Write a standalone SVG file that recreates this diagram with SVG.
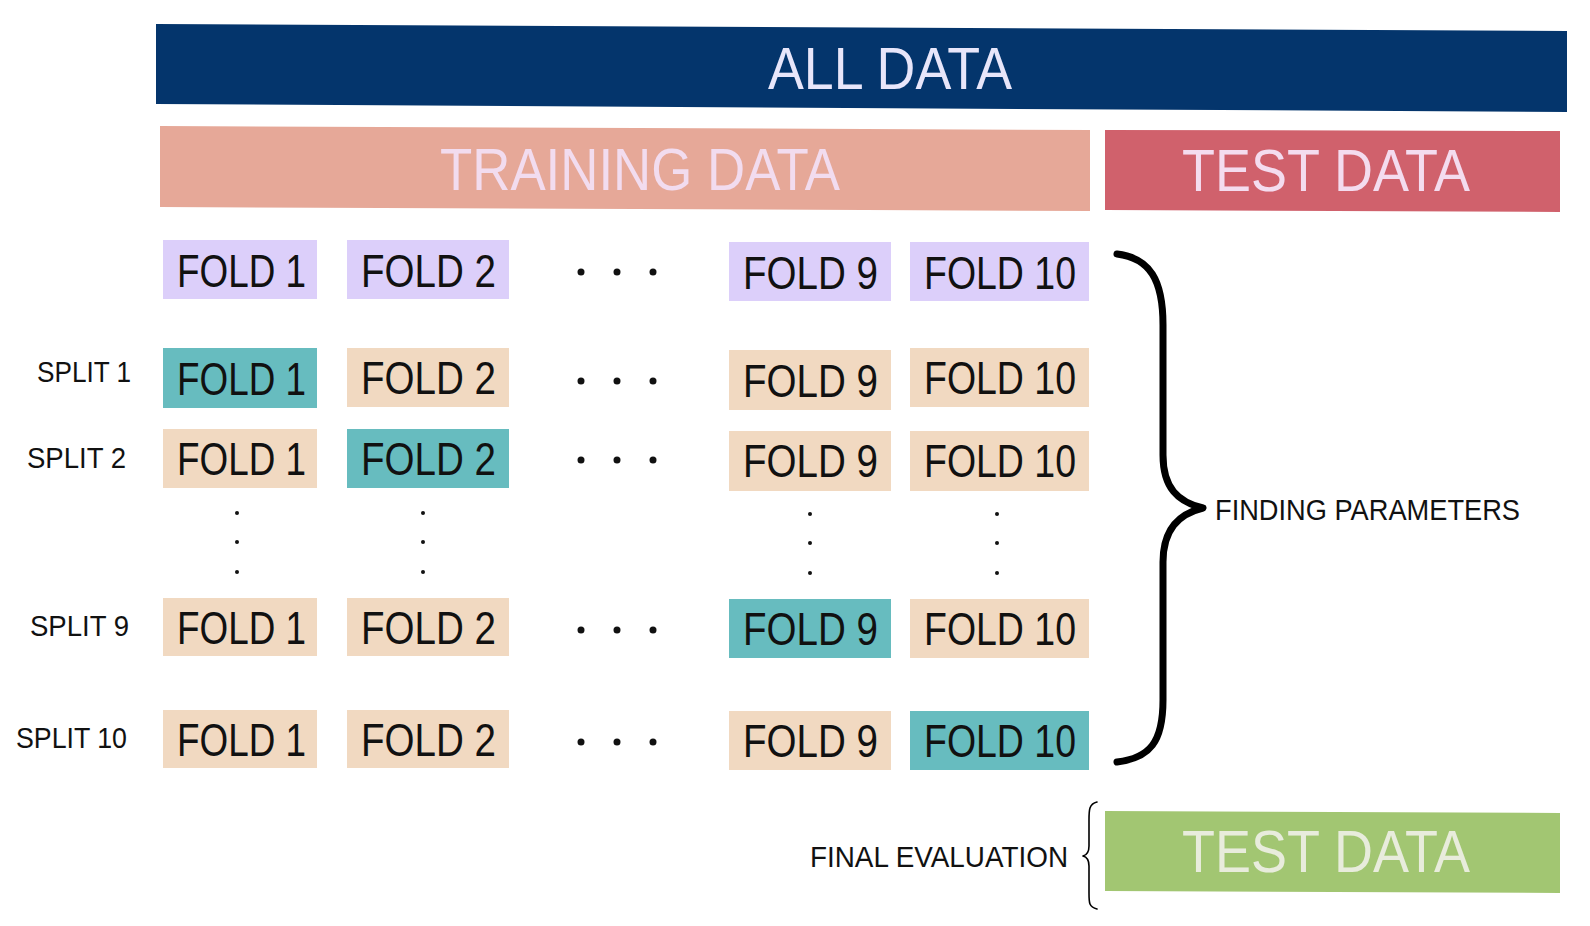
<svg xmlns="http://www.w3.org/2000/svg" width="1590" height="926" viewBox="0 0 1590 926">
<style>
.t{font-family:"Liberation Sans",Arial,sans-serif}
.big{font-size:60px}
.fold{font-size:46px;fill:#111}
.lbl{font-size:30px;fill:#111}
.lav{fill:#dccffa}
.pch{fill:#f1d9c1}
.teal{fill:#67bcbf}
.dot{fill:#111}
</style>
<rect width="1590" height="926" fill="#ffffff"/>
<g id="all-data">
<polygon points="156,24 1567,31 1567,112 156,104" fill="#04356c"/>
<text class="t big" x="768" y="89" fill="#e8e6fa" textLength="244" lengthAdjust="spacingAndGlyphs">ALL DATA</text>
</g>
<g id="training-data">
<polygon points="160,126 1090,130 1090,211 160,207" fill="#e6a898"/>
<text class="t big" x="440" y="190" fill="#f2dcef" textLength="400" lengthAdjust="spacingAndGlyphs">TRAINING DATA</text>
</g>
<g id="test-data">
<polygon points="1105,130 1560,131 1560,212 1105,210" fill="#d0616c"/>
<text class="t big" x="1182" y="191" fill="#f4dcef" textLength="288" lengthAdjust="spacingAndGlyphs">TEST DATA</text>
</g>
<g id="row0">
<rect class="lav" x="163" y="240" width="154" height="59"/>
<text class="t fold" x="177" y="287" textLength="129" lengthAdjust="spacingAndGlyphs">FOLD 1</text>
<rect class="lav" x="347" y="240" width="162" height="59"/>
<text class="t fold" x="361" y="287" textLength="135" lengthAdjust="spacingAndGlyphs">FOLD 2</text>
<rect class="lav" x="729" y="242" width="162" height="59"/>
<text class="t fold" x="743" y="289" textLength="135" lengthAdjust="spacingAndGlyphs">FOLD 9</text>
<rect class="lav" x="910" y="242" width="179" height="59"/>
<text class="t fold" x="924" y="289" textLength="152" lengthAdjust="spacingAndGlyphs">FOLD 10</text>
<circle class="dot" cx="581" cy="272" r="3.5"/><circle class="dot" cx="617" cy="272" r="3.5"/><circle class="dot" cx="653" cy="272" r="3.5"/>
</g>
<g id="split1">
<text class="t lbl" x="37" y="382" textLength="94" lengthAdjust="spacingAndGlyphs">SPLIT 1</text>
<rect class="teal" x="163" y="348" width="154" height="60"/>
<text class="t fold" x="177" y="395" textLength="129" lengthAdjust="spacingAndGlyphs">FOLD 1</text>
<rect class="pch" x="347" y="348" width="162" height="59"/>
<text class="t fold" x="361" y="394" textLength="135" lengthAdjust="spacingAndGlyphs">FOLD 2</text>
<rect class="pch" x="729" y="350" width="162" height="60"/>
<text class="t fold" x="743" y="397" textLength="135" lengthAdjust="spacingAndGlyphs">FOLD 9</text>
<rect class="pch" x="910" y="348" width="179" height="59"/>
<text class="t fold" x="924" y="394" textLength="152" lengthAdjust="spacingAndGlyphs">FOLD 10</text>
<circle class="dot" cx="581" cy="381" r="3.5"/><circle class="dot" cx="617" cy="381" r="3.5"/><circle class="dot" cx="653" cy="381" r="3.5"/>
</g>
<g id="split2">
<text class="t lbl" x="27" y="468" textLength="99" lengthAdjust="spacingAndGlyphs">SPLIT 2</text>
<rect class="pch" x="163" y="429" width="154" height="59"/>
<text class="t fold" x="177" y="475" textLength="129" lengthAdjust="spacingAndGlyphs">FOLD 1</text>
<rect class="teal" x="347" y="429" width="162" height="59"/>
<text class="t fold" x="361" y="475" textLength="135" lengthAdjust="spacingAndGlyphs">FOLD 2</text>
<rect class="pch" x="729" y="431" width="162" height="60"/>
<text class="t fold" x="743" y="477" textLength="135" lengthAdjust="spacingAndGlyphs">FOLD 9</text>
<rect class="pch" x="910" y="431" width="179" height="60"/>
<text class="t fold" x="924" y="477" textLength="152" lengthAdjust="spacingAndGlyphs">FOLD 10</text>
<circle class="dot" cx="581" cy="460" r="3.5"/><circle class="dot" cx="617" cy="460" r="3.5"/><circle class="dot" cx="653" cy="460" r="3.5"/>
</g>
<g id="vdots">
<circle class="dot" cx="237" cy="513" r="2"/><circle class="dot" cx="237" cy="542" r="2"/><circle class="dot" cx="237" cy="572" r="2"/>
<circle class="dot" cx="423" cy="513" r="2"/><circle class="dot" cx="423" cy="542" r="2"/><circle class="dot" cx="423" cy="572" r="2"/>
<circle class="dot" cx="810" cy="514" r="2"/><circle class="dot" cx="810" cy="543" r="2"/><circle class="dot" cx="810" cy="573" r="2"/>
<circle class="dot" cx="997" cy="514" r="2"/><circle class="dot" cx="997" cy="543" r="2"/><circle class="dot" cx="997" cy="573" r="2"/>
</g>
<g id="split9">
<text class="t lbl" x="30" y="636" textLength="99" lengthAdjust="spacingAndGlyphs">SPLIT 9</text>
<rect class="pch" x="163" y="598" width="154" height="58"/>
<text class="t fold" x="177" y="644" textLength="129" lengthAdjust="spacingAndGlyphs">FOLD 1</text>
<rect class="pch" x="347" y="598" width="162" height="58"/>
<text class="t fold" x="361" y="644" textLength="135" lengthAdjust="spacingAndGlyphs">FOLD 2</text>
<rect class="teal" x="729" y="599" width="162" height="59"/>
<text class="t fold" x="743" y="645" textLength="135" lengthAdjust="spacingAndGlyphs">FOLD 9</text>
<rect class="pch" x="910" y="599" width="179" height="59"/>
<text class="t fold" x="924" y="645" textLength="152" lengthAdjust="spacingAndGlyphs">FOLD 10</text>
<circle class="dot" cx="581" cy="630" r="3.5"/><circle class="dot" cx="617" cy="630" r="3.5"/><circle class="dot" cx="653" cy="630" r="3.5"/>
</g>
<g id="split10">
<text class="t lbl" x="16" y="748" textLength="111" lengthAdjust="spacingAndGlyphs">SPLIT 10</text>
<rect class="pch" x="163" y="710" width="154" height="58"/>
<text class="t fold" x="177" y="756" textLength="129" lengthAdjust="spacingAndGlyphs">FOLD 1</text>
<rect class="pch" x="347" y="710" width="162" height="58"/>
<text class="t fold" x="361" y="756" textLength="135" lengthAdjust="spacingAndGlyphs">FOLD 2</text>
<rect class="pch" x="729" y="711" width="162" height="59"/>
<text class="t fold" x="743" y="757" textLength="135" lengthAdjust="spacingAndGlyphs">FOLD 9</text>
<rect class="teal" x="910" y="711" width="179" height="59"/>
<text class="t fold" x="924" y="757" textLength="152" lengthAdjust="spacingAndGlyphs">FOLD 10</text>
<circle class="dot" cx="581" cy="742" r="3.5"/><circle class="dot" cx="617" cy="742" r="3.5"/><circle class="dot" cx="653" cy="742" r="3.5"/>
</g>
<g id="connectors" fill="none" stroke="#000" stroke-linecap="round" stroke-linejoin="round">
<path d="M1117,254 C1150,258 1163,280 1163,325 L1163,455 C1163,488 1178,502 1203,508 C1178,514 1163,530 1163,562 L1163,700 C1163,742 1150,758 1117,762" stroke-width="7"/>
<path d="M1097,802 C1089,804 1089,810 1089,820 L1089,846 C1089,852 1087,855 1083,856 C1087,857 1089,860 1089,866 L1089,893 C1089,903 1089,907 1097,909" stroke-width="1.6"/>
</g>
<g id="finding-parameters">
<text class="t lbl" x="1215" y="520" textLength="305" lengthAdjust="spacingAndGlyphs">FINDING PARAMETERS</text>
</g>
<g id="final-evaluation">
<text class="t lbl" x="810" y="867" textLength="258" lengthAdjust="spacingAndGlyphs">FINAL EVALUATION</text>
</g>
<g id="test-data-final">
<polygon points="1105,811 1560,813 1560,893 1105,891" fill="#a2c672"/>
<text class="t big" x="1182" y="872" fill="#e8ecdc" textLength="288" lengthAdjust="spacingAndGlyphs">TEST DATA</text>
</g>
</svg>
